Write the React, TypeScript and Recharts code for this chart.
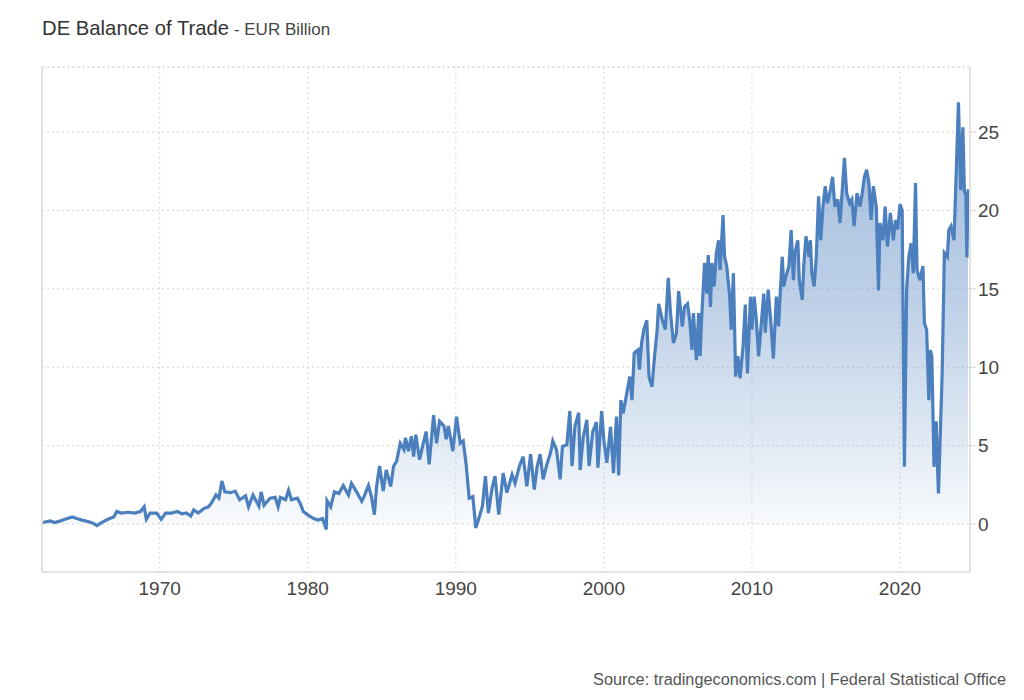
import React from 'react';
import { ComposedChart, Area, XAxis, YAxis, CartesianGrid, ReferenceLine } from 'recharts';

// decimal year of each reading
const years = [
  1962.1, 1962.6, 1962.9, 1963.3, 1963.6, 1964.1, 1964.4, 1964.75, 1965.2, 1965.5,
  1965.75, 1966.1, 1966.5, 1966.9, 1967.1, 1967.4, 1967.9, 1968.3, 1968.7, 1968.95,
  1969.1, 1969.35, 1969.8, 1970.1, 1970.4, 1970.8, 1971.2, 1971.5, 1971.8, 1972.1,
  1972.3, 1972.6, 1973.0, 1973.3, 1973.5, 1973.8, 1974.0, 1974.2, 1974.4, 1974.8,
  1975.1, 1975.4, 1975.8, 1976.0, 1976.3, 1976.7, 1976.85, 1977.05, 1977.45, 1977.8,
  1978.0, 1978.15, 1978.5, 1978.7, 1978.9, 1979.3, 1979.5, 1979.7, 1980.05, 1980.4,
  1980.7, 1981.0, 1981.25, 1981.3, 1981.55, 1981.8, 1982.1, 1982.4, 1982.75, 1982.95,
  1983.3, 1983.65, 1983.8, 1984.1, 1984.3, 1984.5, 1984.65, 1984.85, 1985.1, 1985.3,
  1985.6, 1985.8, 1986.0, 1986.25, 1986.5, 1986.6, 1986.8, 1987.0, 1987.15, 1987.3,
  1987.55, 1987.8, 1988.0, 1988.2, 1988.5, 1988.7, 1988.9, 1989.2, 1989.35, 1989.5,
  1989.8, 1990.05, 1990.3, 1990.5, 1990.7, 1990.9, 1991.15, 1991.35, 1991.6, 1991.8,
  1992.0, 1992.2, 1992.45, 1992.65, 1992.9, 1993.2, 1993.45, 1993.8, 1994.0, 1994.3,
  1994.55, 1994.8, 1995.05, 1995.3, 1995.5, 1995.7, 1995.9, 1996.15, 1996.4, 1996.55,
  1996.8, 1997.05, 1997.2, 1997.5, 1997.7, 1997.85, 1998.05, 1998.3, 1998.4, 1998.6,
  1998.85, 1999.0, 1999.25, 1999.5, 1999.6, 1999.85, 2000.0, 2000.2, 2000.45, 2000.65,
  2000.85, 2001.0, 2001.15, 2001.3, 2001.55, 2001.75, 2001.9, 2002.05, 2002.3, 2002.4,
  2002.55, 2002.7, 2002.9, 2003.05, 2003.25, 2003.4, 2003.6, 2003.7, 2003.95, 2004.15,
  2004.35, 2004.5, 2004.7, 2004.9, 2005.05, 2005.3, 2005.45, 2005.65, 2005.8, 2005.95,
  2006.05, 2006.25, 2006.4, 2006.5, 2006.6, 2006.8, 2006.95, 2007.05, 2007.2, 2007.3,
  2007.45, 2007.6, 2007.75, 2007.85, 2008.05, 2008.15, 2008.3, 2008.5, 2008.6, 2008.75,
  2008.9, 2009.05, 2009.2, 2009.4, 2009.55, 2009.7, 2009.9, 2010.0, 2010.15, 2010.3,
  2010.45, 2010.6, 2010.8, 2010.9, 2011.1, 2011.3, 2011.45, 2011.65, 2011.8, 2011.9,
  2012.05, 2012.15, 2012.3, 2012.5, 2012.65, 2012.8, 2012.9, 2013.1, 2013.2, 2013.4,
  2013.5, 2013.65, 2013.85, 2013.95, 2014.05, 2014.2, 2014.35, 2014.5, 2014.65, 2014.8,
  2014.95, 2015.1, 2015.3, 2015.45, 2015.6, 2015.8, 2015.95, 2016.15, 2016.25, 2016.4,
  2016.6, 2016.75, 2016.9, 2017.1, 2017.3, 2017.45, 2017.6, 2017.75, 2017.9, 2018.05,
  2018.2, 2018.4, 2018.55, 2018.65, 2018.85, 2019.0, 2019.15, 2019.35, 2019.55, 2019.7,
  2019.85, 2020.0, 2020.15, 2020.3, 2020.45, 2020.6, 2020.75, 2020.9, 2021.05, 2021.15,
  2021.35, 2021.55, 2021.65, 2021.8, 2021.95, 2022.05, 2022.15, 2022.3, 2022.45, 2022.5,
  2022.6, 2022.85, 2023.0, 2023.2, 2023.3, 2023.45, 2023.65, 2023.8, 2023.95, 2024.1,
  2024.25, 2024.35, 2024.45, 2024.52, 2024.6,
];

// trade balance, EUR billion
const balance = [
  0.1, 0.2, 0.1, 0.2, 0.3, 0.45, 0.35, 0.25, 0.15, 0.05,
  -0.1, 0.1, 0.3, 0.45, 0.8, 0.7, 0.75, 0.7, 0.8, 1.1,
  0.3, 0.7, 0.7, 0.3, 0.7, 0.7, 0.8, 0.65, 0.7, 0.5,
  0.9, 0.7, 1.0, 1.1, 1.35, 1.85, 1.65, 2.75, 2.05, 2.0,
  2.1, 1.55, 1.8, 1.1, 1.85, 1.15, 2.05, 1.2, 1.65, 1.7,
  1.1, 1.7, 1.55, 2.15, 1.55, 1.65, 1.3, 0.8, 0.55, 0.35,
  0.25, 0.35, -0.35, 1.5, 1.1, 2.05, 1.95, 2.45, 1.85, 2.6,
  2.05, 1.45, 1.75, 2.45, 1.75, 0.6, 2.4, 3.7, 2.1, 3.45,
  2.4, 3.7, 4.0, 5.15, 4.75, 5.5, 4.65, 5.6, 4.3, 5.7,
  4.1, 5.15, 5.9, 3.8, 6.95, 5.15, 6.55, 6.25, 5.4, 6.25,
  4.65, 6.85, 5.15, 5.3, 3.8, 1.65, 1.75, -0.25, 0.5, 1.15,
  3.05, 0.7, 2.3, 3.05, 0.6, 3.25, 2.0, 3.15, 2.6, 3.7,
  4.3, 2.4, 4.45, 2.2, 3.7, 4.45, 2.85, 3.8, 4.55, 5.3,
  4.75, 2.85, 4.95, 5.05, 7.2, 3.7, 6.25, 7.1, 3.45, 5.5,
  6.65, 3.7, 5.9, 6.5, 3.6, 7.2, 5.35, 3.9, 6.2, 3.25,
  6.85, 3.1, 7.9, 7.05, 8.35, 9.4, 7.9, 10.9, 11.1, 9.85,
  11.55, 12.4, 13.0, 9.4, 8.75, 10.45, 12.4, 14.05, 13.0, 12.4,
  15.7, 13.45, 11.55, 12.15, 14.85, 12.6, 13.85, 14.05, 13.0, 11.1,
  13.45, 10.45, 13.45, 10.7, 13.0, 16.65, 14.7, 17.15, 13.85, 16.65,
  15.15, 17.3, 18.1, 16.2, 19.7, 17.05, 16.45, 14.5, 12.4, 16.0,
  9.4, 10.7, 9.3, 11.3, 14.0, 9.6, 14.5, 12.4, 14.5, 13.0,
  10.7, 12.4, 14.7, 12.2, 14.95, 12.6, 10.55, 14.5, 12.6, 14.5,
  17.05, 15.15, 15.8, 16.45, 18.75, 15.55, 17.3, 18.1, 15.55, 14.3,
  16.45, 18.35, 17.05, 18.1, 16.0, 15.15, 17.05, 20.9, 18.1, 20.25,
  21.55, 20.45, 21.3, 22.15, 20.25, 20.7, 19.2, 21.95, 23.35, 21.1,
  20.45, 20.7, 19.0, 21.1, 20.25, 21.1, 22.15, 22.6, 21.75, 19.4,
  21.55, 20.25, 14.9, 19.2, 18.1, 20.25, 17.7, 19.85, 18.1, 19.4,
  18.8, 20.4, 20.0, 3.65, 14.95, 17.05, 17.9, 16.0, 21.75, 16.2,
  15.55, 16.45, 12.8, 12.4, 7.9, 11.1, 10.7, 3.65, 6.55, 4.7,
  1.95, 9.6, 17.3, 17.05, 18.75, 19.0, 18.1, 22.4, 26.9, 21.3,
  25.3, 21.2, 21.0, 17.0, 21.35,
];

const yearTicks = [1970, 1980, 1990, 2000, 2010, 2020];
const valueTicks = [0, 5, 10, 15, 20, 25];

const X_MIN = 1962.05;
const X_MAX = 2024.73;
const Y_MIN = -3.06;
const Y_MAX = 29.15;

const data = years.map((year, i) => ({ year, value: balance[i] }));

const font = '"Liberation Sans", Arial, sans-serif';
const lineColor = '#4b7fbd';

export default function App() {
  return (
    <div style={{ position: 'absolute', left: 0, top: 0, width: 1024, height: 700, background: '#fff', fontFamily: font }}>
      <div style={{ position: 'absolute', left: 42, top: 18, lineHeight: '20px', whiteSpace: 'nowrap', color: '#333' }}>
        <span style={{ fontSize: 20.3 }}>DE Balance of Trade</span>
        <span style={{ fontSize: 17, color: '#444' }}> - EUR Billion</span>
      </div>

      <ComposedChart
        width={1024}
        height={700}
        data={data}
        margin={{ top: 67, left: 42, right: 14, bottom: 98 }}
        style={{ position: 'absolute', left: 0, top: 0 }}
      >
        <defs>
          <linearGradient id="tradeFill" x1="0" y1="0" x2="0" y2="1">
            <stop offset="0%" stopColor={lineColor} stopOpacity={0.88} />
            <stop offset="45%" stopColor={lineColor} stopOpacity={0.62} />
            <stop offset="75%" stopColor={lineColor} stopOpacity={0.33} />
            <stop offset="100%" stopColor={lineColor} stopOpacity={0.05} />
          </linearGradient>
        </defs>
        <CartesianGrid stroke="#d6d6d6" strokeDasharray="2 3" />
        <XAxis
          dataKey="year"
          type="number"
          domain={[X_MIN, X_MAX]}
          ticks={yearTicks}
          allowDataOverflow
          height={30}
          tickLine={false}
          tickMargin={4}
          axisLine={{ stroke: '#e2e2e2', strokeWidth: 2 }}
          tick={{ fill: '#444', fontSize: 19, fontFamily: font }}
        />
        <YAxis
          orientation="right"
          type="number"
          domain={[Y_MIN, Y_MAX]}
          ticks={valueTicks}
          allowDataOverflow
          width={40}
          tickSize={6}
          tickMargin={2}
          tickLine={{ stroke: '#d6d6d6' }}
          axisLine={{ stroke: '#e2e2e2', strokeWidth: 2 }}
          tick={{ fill: '#444', fontSize: 19, fontFamily: font, textAnchor: 'start' }}
        />
        <ReferenceLine y={Y_MAX} stroke="#d6d6d6" strokeDasharray="2 3" />
        <ReferenceLine x={X_MIN} stroke="#e2e2e2" strokeWidth={2} />
        <Area
          type="linear"
          dataKey="value"
          baseValue={0}
          stroke={lineColor}
          strokeWidth={3.2}
          fill="url(#tradeFill)"
          dot={false}
          activeDot={false}
          isAnimationActive={false}
        />
      </ComposedChart>

      <div style={{ position: 'absolute', right: 18, top: 671, fontSize: 16.3, lineHeight: '16px', color: '#555', whiteSpace: 'nowrap' }}>
        Source: tradingeconomics.com | Federal Statistical Office
      </div>
    </div>
  );
}
